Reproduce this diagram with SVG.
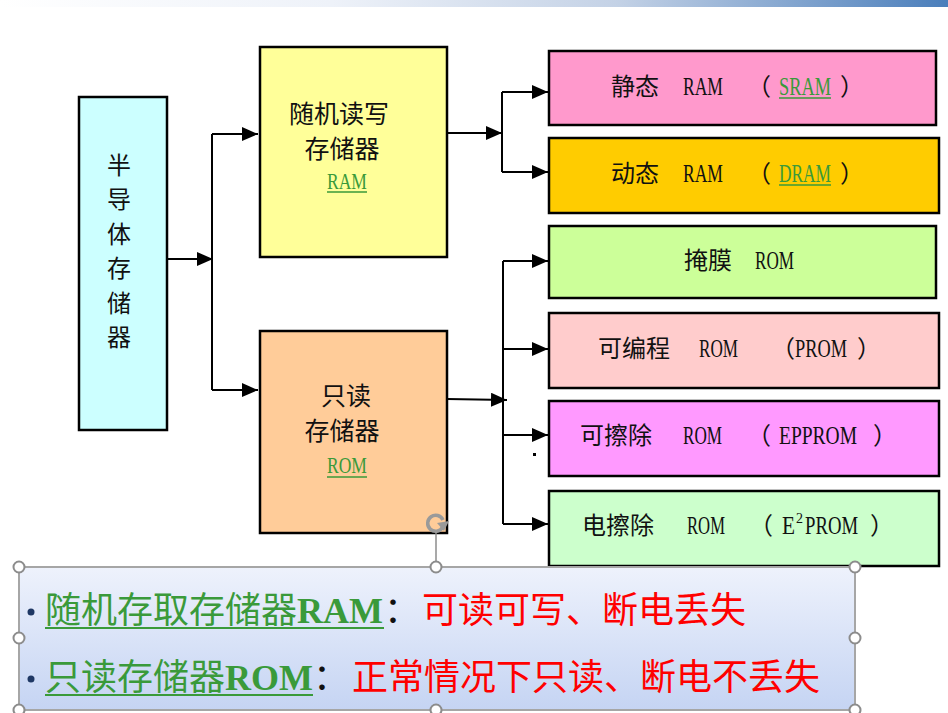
<svg xmlns="http://www.w3.org/2000/svg" width="948" height="713" viewBox="0 0 948 713">
<defs>
<linearGradient id="topbar" x1="0" y1="0" x2="1" y2="0">
<stop offset="0" stop-color="#ffffff"/>
<stop offset="0.35" stop-color="#eef2f9"/>
<stop offset="0.65" stop-color="#c4d2e6"/>
<stop offset="1" stop-color="#4a7ebb"/>
</linearGradient>
<linearGradient id="note" x1="0" y1="0" x2="0" y2="1">
<stop offset="0" stop-color="#eef2fc"/>
<stop offset="1" stop-color="#c5d4f3"/>
</linearGradient>
<marker id="arr" viewBox="0 0 16 14" refX="16" refY="7" markerWidth="16" markerHeight="14" markerUnits="userSpaceOnUse" orient="auto">
<path d="M0,0 L16,7 L0,14 z" fill="#000"/>
</marker>
<style>
.box{stroke:#000;stroke-width:2.5}
.cjk{font-family:"Noto Sans CJK SC","Noto Sans CJK JP",sans-serif;fill:#111}
.lat{font-family:"Liberation Serif",serif;fill:#111}
.grn{fill:#3a9a3a}
.ul{stroke:#3a9a3a;stroke-width:1.5}
.conn path{fill:none;stroke:#000;stroke-width:2}
.h{fill:#fff;stroke:#8c8c8c;stroke-width:2}
</style>
</defs>
<rect x="0" y="0" width="948" height="713" fill="#fff"/>
<rect x="0" y="0" width="948" height="7" fill="url(#topbar)"/>

<g id="semi">
<rect class="box" x="79" y="97" width="88" height="333" fill="#ccffff"/>
<g class="cjk" font-size="24" text-anchor="middle">
<text x="119" y="174">半</text>
<text x="119" y="208">导</text>
<text x="119" y="243">体</text>
<text x="119" y="277">存</text>
<text x="119" y="312">储</text>
<text x="119" y="346">器</text>
</g>
</g>

<g id="ram">
<rect class="box" x="260" y="47" width="187" height="210" fill="#ffff99"/>
<text class="cjk" font-size="25" x="339" y="123" text-anchor="middle">随机读写</text>
<text class="cjk" font-size="25" x="342" y="158" text-anchor="middle">存储器</text>
<text class="lat grn" font-size="23" transform="translate(327,189) scale(0.763,1)">RAM</text>
<line class="ul" x1="327" y1="192" x2="367" y2="192"/>
</g>

<g id="rom">
<rect class="box" x="260" y="331" width="187" height="202" fill="#ffcc99"/>
<text class="cjk" font-size="25" x="346" y="405" text-anchor="middle">只读</text>
<text class="cjk" font-size="25" x="342" y="440" text-anchor="middle">存储器</text>
<text class="lat grn" font-size="23" transform="translate(327,473) scale(0.763,1)">ROM</text>
<line class="ul" x1="327" y1="477" x2="367" y2="477"/>
</g>

<g id="sram">
<rect class="box" x="549" y="51" width="387" height="74" fill="#ff99cc"/>
<text class="cjk" font-size="24" x="611" y="95">静态</text>
<text class="lat" font-size="26" transform="translate(683,95) scale(0.675,1)">RAM</text>
<text class="cjk" font-size="24" x="747" y="95">（</text>
<text class="lat grn" font-size="26" transform="translate(779,95) scale(0.706,1)">SRAM</text>
<line class="ul" x1="779" y1="98" x2="831" y2="98"/>
<text class="cjk" font-size="24" x="840" y="95">）</text>
</g>

<g id="dram">
<rect class="box" x="549" y="138" width="390" height="75" fill="#ffcc00"/>
<text class="cjk" font-size="24" x="611" y="182">动态</text>
<text class="lat" font-size="26" transform="translate(683,182) scale(0.675,1)">RAM</text>
<text class="cjk" font-size="24" x="747" y="182">（</text>
<text class="lat grn" font-size="26" transform="translate(779,182) scale(0.667,1)">DRAM</text>
<line class="ul" x1="779" y1="185" x2="831" y2="185"/>
<text class="cjk" font-size="24" x="840" y="182">）</text>
</g>

<g id="mask">
<rect class="box" x="549" y="226" width="387" height="72" fill="#ccff99"/>
<text class="cjk" font-size="24" x="684" y="269">掩膜</text>
<text class="lat" font-size="26" transform="translate(755,269) scale(0.659,1)">ROM</text>
</g>

<g id="prom">
<rect class="box" x="549" y="313" width="390" height="75" fill="#ffcccc"/>
<text class="cjk" font-size="24" x="598" y="357">可编程</text>
<text class="lat" font-size="26" transform="translate(699,357) scale(0.659,1)">ROM</text>
<text class="cjk" font-size="24" x="771" y="357">（</text>
<text class="lat" font-size="26" transform="translate(795,357) scale(0.706,1)">PROM</text>
<text class="cjk" font-size="24" x="857" y="357">）</text>
</g>

<g id="eprom">
<rect class="box" x="549" y="401" width="390" height="75" fill="#ff99ff"/>
<text class="cjk" font-size="24" x="580" y="444">可擦除</text>
<text class="lat" font-size="26" transform="translate(683,444) scale(0.659,1)">ROM</text>
<text class="cjk" font-size="24" x="747" y="444">（</text>
<text class="lat" font-size="26" transform="translate(779,444) scale(0.75,1)">EPPROM</text>
<text class="cjk" font-size="24" x="873" y="444">）</text>
</g>

<g id="e2prom">
<rect class="box" x="549" y="491" width="390" height="75" fill="#ccffcc"/>
<text class="cjk" font-size="24" x="582" y="534">电擦除</text>
<text class="lat" font-size="26" transform="translate(687,534) scale(0.642,1)">ROM</text>
<text class="cjk" font-size="24" x="749" y="534">（</text>
<text class="lat" font-size="26" transform="translate(782,534) scale(0.82,1)">E</text>
<text class="lat" font-size="14" x="796" y="523">2</text>
<text class="lat" font-size="26" transform="translate(805,534) scale(0.72,1)">PROM</text>
<text class="cjk" font-size="24" x="870" y="534">）</text>
</g>

<g id="connectors" class="conn">
<path d="M167,259 L213,259" marker-end="url(#arr)"/>
<path d="M212,134 L212,390"/>
<path d="M212,134 L258,134" marker-end="url(#arr)"/>
<path d="M212,390 L258,390" marker-end="url(#arr)"/>
<path d="M447,133 L502,133" marker-end="url(#arr)"/>
<path d="M502,92 L502,172"/>
<path d="M502,92 L548,92" marker-end="url(#arr)"/>
<path d="M502,172 L548,172" marker-end="url(#arr)"/>
<path d="M447,399 L507,400" marker-end="url(#arr)"/>
<path d="M503,261 L503,524"/>
<path d="M503,261 L548,261" marker-end="url(#arr)"/>
<path d="M503,349 L548,349" marker-end="url(#arr)"/>
<path d="M503,435 L548,435" marker-end="url(#arr)"/>
<path d="M503,524 L548,524" marker-end="url(#arr)"/>
</g>
<rect x="533" y="453" width="3" height="3" fill="#000"/>

<g id="note-box">
<line x1="436" y1="533" x2="436" y2="562" stroke="#8c8c8c" stroke-width="1.5"/>
<path d="M442.5,527.5 A8,8 0 1 1 443,520" fill="none" stroke="#9a9a9a" stroke-width="3.5"/>
<path d="M437,523 L449,521 L444,531 z" fill="#9a9a9a"/>
<rect x="19" y="567" width="836" height="143" fill="url(#note)" stroke="#a6a6a6" stroke-width="2"/>
<circle cx="31" cy="612" r="3.5" fill="#1f3864"/>
<text class="cjk grn" font-size="36" x="45" y="623">随机存取存储器</text>
<text class="lat grn" font-size="36" font-weight="bold" x="297" y="623">RAM</text>
<line x1="45" y1="628" x2="384" y2="628" stroke="#3a9a3a" stroke-width="2"/>
<text class="cjk" font-size="36" x="384" y="623">：</text>
<text class="cjk" font-size="36" x="422" y="623" style="fill:#ff0000">可读可写、断电丢失</text>
<circle cx="31" cy="679" r="3.5" fill="#1f3864"/>
<text class="cjk grn" font-size="36" x="45" y="690">只读存储器</text>
<text class="lat grn" font-size="36" font-weight="bold" x="225" y="690">ROM</text>
<line x1="45" y1="695" x2="313" y2="695" stroke="#3a9a3a" stroke-width="2"/>
<text class="cjk" font-size="36" x="313" y="690">：</text>
<text class="cjk" font-size="36" x="352" y="690" style="fill:#ff0000">正常情况下只读、断电不丢失</text>
<circle class="h" cx="19" cy="567" r="5.5"/>
<circle class="h" cx="436" cy="567" r="5.5"/>
<circle class="h" cx="855" cy="567" r="5.5"/>
<circle class="h" cx="19" cy="638" r="5.5"/>
<circle class="h" cx="855" cy="638" r="5.5"/>
<circle class="h" cx="19" cy="710" r="5.5"/>
<circle class="h" cx="436" cy="710" r="5.5"/>
<circle class="h" cx="855" cy="710" r="5.5"/>
</g>
</svg>
